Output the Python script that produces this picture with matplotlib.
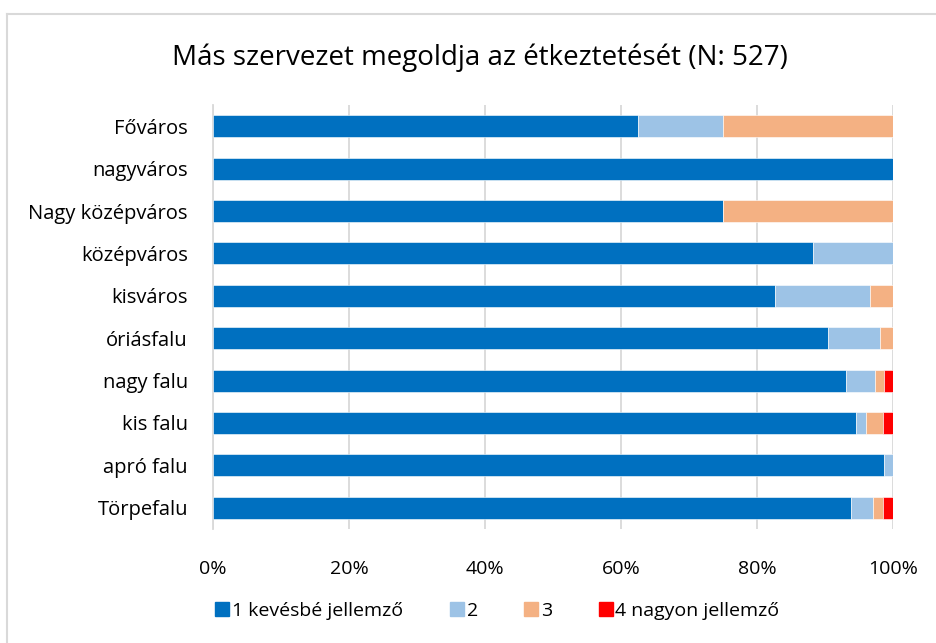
import matplotlib.pyplot as plt
from matplotlib.lines import Line2D
from matplotlib.ticker import PercentFormatter

plt.rcParams['font.family'] = ['Open Sans', 'DejaVu Sans']

# település típusok, felülről lefelé
categories = ["Főváros", "nagyváros", "Nagy középváros", "középváros", "kisváros",
              "óriásfalu", "nagy falu", "kis falu", "apró falu", "Törpefalu"]
series_names = ["1 kevésbé jellemző", "2", "3", "4 nagyon jellemző"]
colors = ["#0070C0", "#9DC3E6", "#F4B183", "#FF0000"]

# százalékos megoszlás kategóriánként
s1 = [62.5, 100.0, 75.0, 88.2, 82.7, 90.5, 93.1, 94.6, 98.7, 93.9]
s2 = [12.5, 0.0, 0.0, 11.8, 13.9, 7.6, 4.2, 1.5, 1.3, 3.1]
s3 = [25.0, 0.0, 25.0, 0.0, 3.4, 1.9, 1.4, 2.4, 0.0, 1.5]
s4 = [0.0, 0.0, 0.0, 0.0, 0.0, 0.0, 1.3, 1.5, 0.0, 1.5]

fig = plt.figure(figsize=(9.37, 6.43), dpi=100)
ax = fig.add_axes([0.2273, 0.1773, 0.7257, 0.6594])

y = list(range(len(categories)))
left = [0.0] * len(categories)
for name, vals, col in zip(series_names, [s1, s2, s3, s4], colors):
    ax.barh(y, vals, left=left, height=0.52, color=col, label=name,
            edgecolor="white", linewidth=0.4, zorder=3)
    left = [a + b for a, b in zip(left, vals)]

ax.set_ylim(len(categories) - 0.5, -0.5)
ax.set_yticks(y)
ax.set_yticklabels(categories, fontsize=14.5)
ax.set_xlim(0, 100)
ax.set_xticks(range(0, 101, 20))
ax.xaxis.set_major_formatter(PercentFormatter(decimals=0))
ax.tick_params(axis="x", labelsize=14, length=0, pad=22)
ax.tick_params(axis="y", length=0, pad=18)
ax.grid(axis="x", color="#D9D9D9", linewidth=1.3, zorder=0)
for side in ["top", "right", "bottom"]:
    ax.spines[side].set_visible(False)
ax.spines["left"].set_color("#D9D9D9")
ax.spines["left"].set_linewidth(1.3)

fig.text(0.512, 0.91, "Más szervezet megoldja az étkeztetését (N: 527)",
         ha="center", va="center", fontsize=20)

handles = [Line2D([], [], marker="s", linestyle="none", markersize=10,
                  markerfacecolor=c, markeredgecolor=c) for c in colors]
fig.legend(handles, series_names, loc="center", bbox_to_anchor=(0.531, 0.05),
           ncol=4, frameon=False, fontsize=14, handlelength=0.7,
           handletextpad=0.15, columnspacing=2.4)

# keret a diagram körül
fig.add_artist(Line2D([0.008, 0.008], [0.0, 0.979], color="#D9D9D9", linewidth=1.5))
fig.add_artist(Line2D([0.008, 1.0], [0.979, 0.979], color="#D9D9D9", linewidth=1.5))

fig.savefig("out.png", dpi=100, facecolor="white")
